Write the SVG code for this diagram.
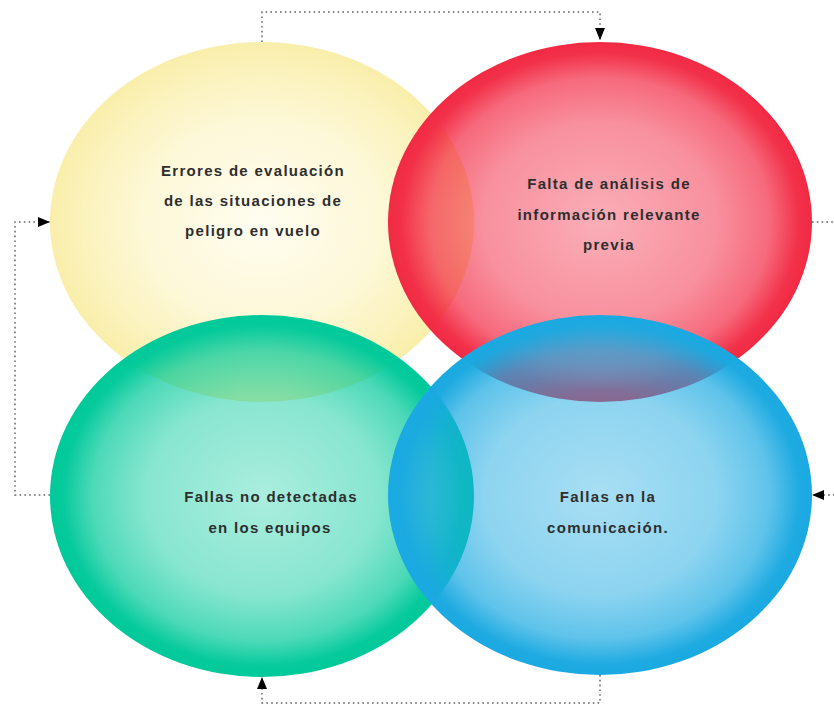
<svg xmlns="http://www.w3.org/2000/svg" width="834" height="705" viewBox="0 0 834 705">
<style>
.lbl{font-family:"Liberation Sans",Arial,sans-serif;font-size:15px;font-weight:bold;fill:#2e2e2e;letter-spacing:1.3px;text-anchor:middle}
.con{fill:none;stroke:#666;stroke-width:1.5;stroke-dasharray:1.6 3.2}
</style>
<defs>
<radialGradient id="gY" cx="0.5" cy="0.5" r="0.5">
<stop offset="0" stop-color="#fffdf0"/>
<stop offset="0.55" stop-color="#fdf8d8"/>
<stop offset="0.85" stop-color="#fbf2bc"/>
<stop offset="1" stop-color="#f9eeaa"/>
</radialGradient>
<radialGradient id="gR" cx="0.5" cy="0.5" r="0.5">
<stop offset="0" stop-color="#f22a44" stop-opacity="0.38"/>
<stop offset="0.55" stop-color="#f22a44" stop-opacity="0.52"/>
<stop offset="0.8" stop-color="#f22a44" stop-opacity="0.7"/>
<stop offset="0.94" stop-color="#f22a44" stop-opacity="0.97"/>
<stop offset="1" stop-color="#f22a44" stop-opacity="1"/>
</radialGradient>
<radialGradient id="gG" cx="0.5" cy="0.5" r="0.5">
<stop offset="0" stop-color="#00c99a" stop-opacity="0.33"/>
<stop offset="0.55" stop-color="#00c99a" stop-opacity="0.47"/>
<stop offset="0.8" stop-color="#00c99a" stop-opacity="0.7"/>
<stop offset="0.94" stop-color="#00c99a" stop-opacity="0.98"/>
<stop offset="1" stop-color="#00c99a" stop-opacity="1"/>
</radialGradient>
<radialGradient id="gB" cx="0.5" cy="0.5" r="0.5">
<stop offset="0" stop-color="#1aa9e1" stop-opacity="0.38"/>
<stop offset="0.55" stop-color="#1aa9e1" stop-opacity="0.5"/>
<stop offset="0.8" stop-color="#1aa9e1" stop-opacity="0.7"/>
<stop offset="0.94" stop-color="#1aa9e1" stop-opacity="0.98"/>
<stop offset="1" stop-color="#1aa9e1" stop-opacity="1"/>
</radialGradient>
<marker id="arr" viewBox="0 0 12 10" refX="12" refY="5" markerWidth="12" markerHeight="10" markerUnits="userSpaceOnUse" orient="auto">
<path d="M0 0 L12 5 L0 10 Z" fill="#000"/>
</marker>
</defs>
<rect width="834" height="705" fill="#fff"/>
<g id="node-errores">
<ellipse cx="262" cy="222" rx="212" ry="180" fill="url(#gY)"/>
<text class="lbl" x="253" y="176">Errores de evaluación</text>
<text class="lbl" x="253" y="206">de las situaciones de</text>
<text class="lbl" x="253" y="236">peligro en vuelo</text>
</g>
<g id="node-falta">
<ellipse cx="600" cy="222" rx="212" ry="180" fill="url(#gR)"/>
<text class="lbl" x="609" y="189">Falta de análisis de</text>
<text class="lbl" x="609" y="220">información relevante</text>
<text class="lbl" x="609" y="250">previa</text>
</g>
<g id="node-fallas-equipos">
<ellipse cx="262" cy="496" rx="212" ry="181" fill="url(#gG)"/>
<text class="lbl" x="271" y="502">Fallas no detectadas</text>
<text class="lbl" x="270" y="533">en los equipos</text>
</g>
<g id="node-comunicacion">
<ellipse cx="600" cy="495" rx="212" ry="180" fill="url(#gB)"/>
<text class="lbl" x="608" y="502">Fallas en la</text>
<text class="lbl" x="608" y="533">comunicación.</text>
</g>
<g id="connectors">
<path class="con" d="M262 42 V12 H600 V40" marker-end="url(#arr)"/>
<path class="con" d="M812 222 H850 V495 H812" marker-end="url(#arr)"/>
<path class="con" d="M600 675 V703 H262 V677" marker-end="url(#arr)"/>
<path class="con" d="M50 495 H15 V222 H50" marker-end="url(#arr)"/>
</g>
</svg>
